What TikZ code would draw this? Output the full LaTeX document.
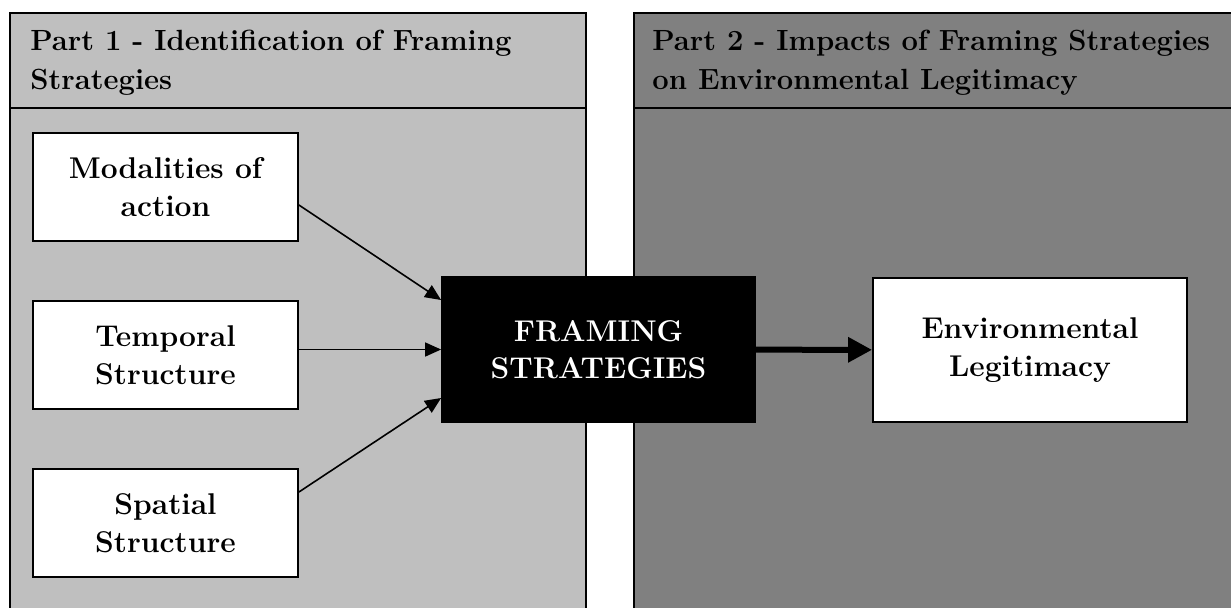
\documentclass[tikz,border=0pt]{standalone}
\usepackage{fontspec}
\usetikzlibrary
  {
    arrows.meta,  % triangle arrow heads
    positioning,  % place nodes relative to other nodes
  }

\begin{document}
\begin{tikzpicture}
    [
      x=0.5pt, y=-0.5pt,
      % Styles
      >={Triangle[length=8pt, width=7pt]},
      panel/.style={draw, line width=0.85pt},
      header/.style={anchor=north west, align=left, inner sep=0pt,
        font=\fontsize{14.6}{19.5}\selectfont\bfseries},
      factor/.style={draw, fill=white, line width=0.9pt, align=center,
        minimum width=132.5pt, minimum height=54pt,
        font=\fontsize{15}{18.8}\selectfont\bfseries},
      result/.style={factor, minimum width=157pt, minimum height=72pt},
      core/.style={result, fill=black, text=white, minimum width=156.5pt, minimum height=72.5pt},
      link/.style={->, line width=0.8pt},
      important/.style={-{Triangle[length=12pt, width=12pt]}, line width=3pt}
    ]

    % Colors
    \colorlet{partonecolor}{black!25}
    \colorlet{parttwocolor}{black!50}

    \useasboundingbox (0,0) rectangle (1231,607);
    \clip (0,0) rectangle (1231,607);

    % the two parts
    \draw [panel, fill=partonecolor] (10,13) rectangle (586,630);
    \draw [panel] (10,108) -- (586,108);
    \draw [panel, fill=parttwocolor] (634,13) rectangle (1260,630);
    \draw [panel] (634,108) -- (1260,108);

    \node [header] (part one) at (30,30) {Part 1 - Identification of Framing\\Strategies};
    \node [header] (part two) at (652,30) {Part 2 - Impacts of Framing Strategies\\on Environmental Legitimacy};

    % factors
    \node [factor] (modalities) at (165.5,187) {Modalities of\\action};
    \node [factor] (temporal) at (165.5,355) {Temporal\\Structure};
    \node [factor] (spatial) at (165.5,523) {Spatial\\Structure};

    \node [core] (framing) at (598.5,349.5) {FRAMING\\STRATEGIES};
    \node [result] (legitimacy) at (1030,350) {Environmental\\Legitimacy};

    \draw [link] ([yshift=-9pt]modalities.east) -- ([yshift=24.75pt]framing.west);
    \draw [link] (temporal.east |- framing.west) -- (framing.west);
    \draw [link] ([yshift=15.5pt]spatial.east) -- ([yshift=-24.25pt]framing.west);
    \draw [important] (framing) -- (legitimacy);
\end{tikzpicture}
\end{document}
